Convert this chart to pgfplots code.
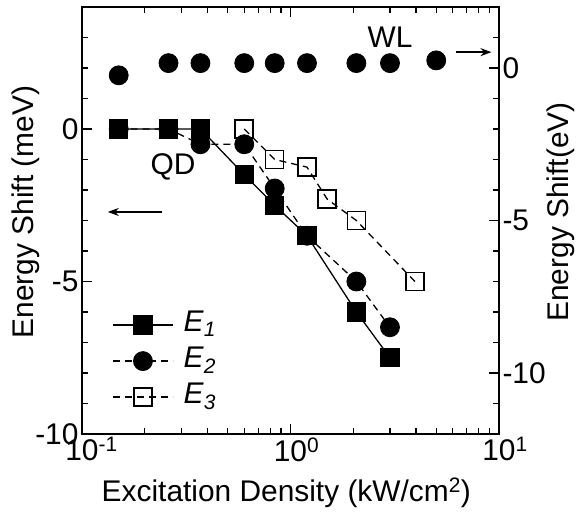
\documentclass[border=0pt]{standalone}
\usepackage{fontspec}
\setmainfont{Liberation Sans}
\usepackage{pgfplots}
\pgfplotsset{compat=1.18}
\usetikzlibrary{arrows.meta}
\newcommand{\bigf}{\fontsize{30}{36}\selectfont}
\begin{document}
\begin{tikzpicture}[font=\bigf]
\begin{axis}[
  scale only axis, width=417bp, height=427bp,
  xmode=log, xmin=0.1, xmax=10,
  axis line style={line width=1.8pt},
  every tick/.style={line width=1.3pt, black},
  major tick length=10bp, minor tick length=6bp,
  tick align=inside,
  tick label style={font=\bigf},
  label style={font=\bigf},
  ymin=-10, ymax=4,
  ytick={-10,-5,0}, yticklabels={-10,-5,0},
  minor ytick={-9,...,3},
  ytick pos=left,
  xtick={0.1,1,10},
  xticklabels={{10\rlap{\textsuperscript{-1}}},{10\rlap{\textsuperscript{0}}},{10\rlap{\textsuperscript{1}}}},
  minor xtick={0.2,0.3,0.4,0.5,0.6,0.7,0.8,0.9,2,3,4,5,6,7,8,9},
  xlabel={Excitation Density (kW/cm\textsuperscript{2})},
  ylabel={Energy Shift (meV)},
  xlabel style={at={(axis description cs:0.49,-0.138)}, anchor=center},
  ylabel style={at={(axis description cs:-0.135,0.52)}, anchor=center},
  legend style={at={(axis description cs:0.065,0.30)}, anchor=north west, draw=none, fill=none,
    font=\bigf, row sep=2bp,
    nodes={inner sep=1bp, text height=22bp, text depth=10bp},
    /tikz/every odd column/.append style={column sep=9bp}},
  legend cell align=left,
  legend image code/.code={\draw[mark repeat=2,mark phase=2,#1] plot coordinates {(0bp,0bp) (30bp,0bp) (60bp,0bp)};},
]
\addlegendimage{black, solid, line width=1.3pt, mark=square*, mark size=9bp, mark options={solid}}
\addlegendentry{\textit{E}\textsubscript{\textit{1}}}
\addlegendimage{black, line width=1.3pt, dash pattern=on 7bp off 5bp, mark=*, mark size=9.5bp, mark options={solid, line width=0.8pt}}
\addlegendentry{\textit{E}\textsubscript{\textit{2}}}
\addlegendimage{black, line width=1.3pt, dash pattern=on 7bp off 5bp, mark=square, mark size=9bp, mark options={solid, fill=white, line width=1.5pt}}
\addlegendentry{\textit{E}\textsubscript{\textit{3}}}
\addplot[black, line width=1.3pt, dash pattern=on 7bp off 5bp, mark=square, mark size=9bp, mark options={solid, fill=white, line width=1.5pt}, forget plot] coordinates {(0.6,0) (0.84,-1.0) (1.2,-1.25) (1.5,-2.3) (2.07,-3.0) (3.95,-5.0)};
\addplot[black, line width=1.3pt, dash pattern=on 7bp off 5bp, mark=*, mark size=9.5bp, mark options={solid, line width=0.8pt}, forget plot] coordinates {(0.15,0) (0.26,0) (0.37,-0.5) (0.6,-0.5) (0.84,-1.95) (1.2,-3.5) (2.07,-5.0) (3.0,-6.5)};
\addplot[black, solid, line width=1.3pt, mark=square*, mark size=9bp, mark options={solid}, forget plot] coordinates {(0.15,0) (0.26,0) (0.37,0) (0.6,-1.5) (0.84,-2.5) (1.2,-3.5) (2.07,-6.0) (3.0,-7.5)};
\node at (axis cs:3.0,3.02) {WL};
\node at (axis cs:0.273,-1.25) {QD};
\draw[line width=1.3pt, -{Stealth[length=11bp,width=8bp]}] (axis cs:6.2,2.52) -- (axis cs:9.2,2.52);
\draw[line width=1.3pt, -{Stealth[length=11bp,width=8bp]}] (axis cs:0.242,-2.72) -- (axis cs:0.133,-2.72);
\end{axis}
\begin{axis}[
  scale only axis, width=417bp, height=427bp,
  xmode=log, xmin=0.1, xmax=10,
  axis line style={line width=1.8pt},
  every tick/.style={line width=1.3pt, black},
  major tick length=10bp, minor tick length=6bp,
  tick align=inside,
  tick label style={font=\bigf},
  label style={font=\bigf},
  ymin=-12, ymax=2,
  hide x axis,
  ytick pos=right,
  ytick={-10,-5,0}, yticklabels={-10,-5,0},
  minor ytick={-11,...,1},
  ylabel={Energy Shift(eV)},
  ylabel style={at={(axis description cs:1.149,0.52)}, anchor=center},
]
\addplot[only marks, mark=*, mark size=9.5bp, black, mark options={line width=0.8pt}] coordinates {(0.15,-0.24) (0.26,0.16) (0.37,0.16) (0.6,0.16) (0.84,0.16) (1.2,0.16) (2.07,0.16) (3.0,0.16) (5.0,0.25)};
\end{axis}
\pgfresetboundingbox
\path[use as bounding box] (current axis.south west) ++(-82bp,-81bp) rectangle ++(577bp,515bp);
\end{tikzpicture}
\end{document}
